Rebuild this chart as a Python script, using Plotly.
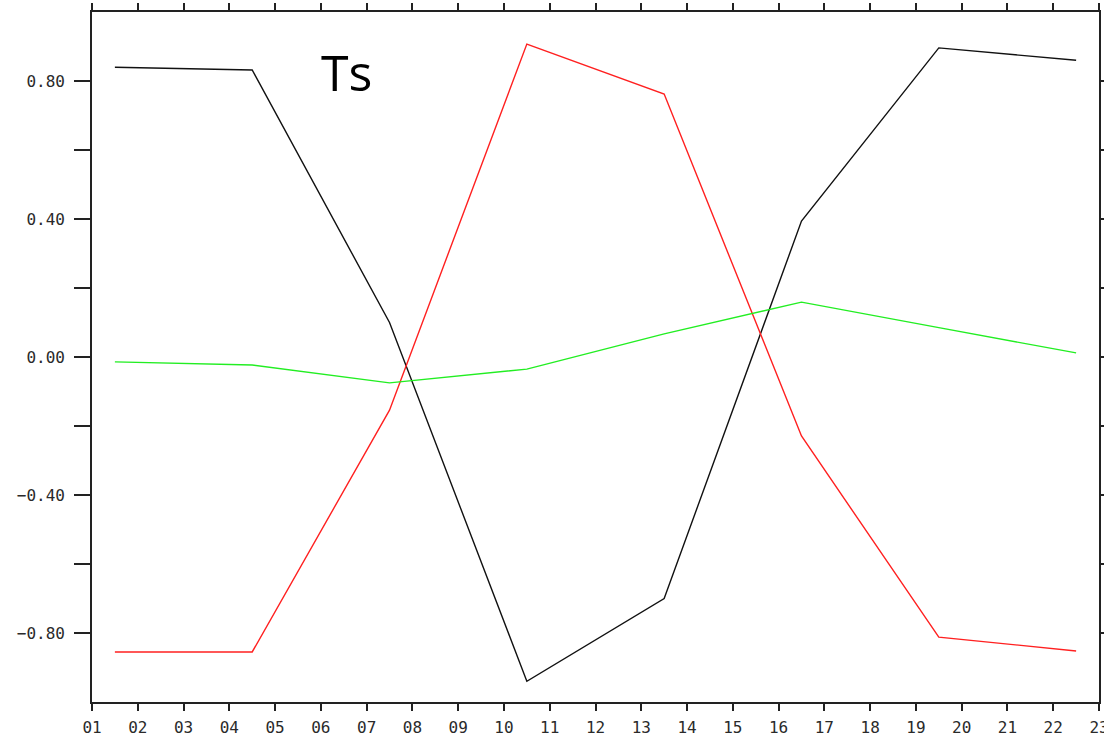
import plotly.graph_objects as go

x_pos = [1.5, 4.5, 7.5, 10.5, 13.5, 16.5, 19.5, 22.5]
black_vals = [0.84, 0.832, 0.10, -0.94, -0.70, 0.394, 0.896, 0.86]
red_vals = [-0.855, -0.855, -0.154, 0.907, 0.762, -0.229, -0.812, -0.852]
green_vals = [-0.014, -0.023, -0.075, -0.035, 0.067, 0.159, 0.085, 0.012]
x_tick_vals = list(range(1, 24))
x_tick_text = [f"{i:02d}" for i in x_tick_vals]
y_tick_vals = [-0.8, -0.4, 0.0, 0.4, 0.8]
y_tick_text = ["\u22120.80", "\u22120.40", "0.00", "0.40", "0.80"]

fig = go.Figure()
for vals, col in [(black_vals, "#111111"), (red_vals, "#ff2020"), (green_vals, "#22ee22")]:
    fig.add_trace(go.Scatter(x=x_pos, y=vals, mode="lines", hoverinfo="skip",
                             line=dict(color=col, width=1.4), showlegend=False))

fig.add_annotation(text="Ts", x=0.253, y=0.913, xref="paper", yref="paper",
                   showarrow=False, font=dict(family="Open Sans", size=50, color="black"),
                   xanchor="center", yanchor="middle")

fig.update_layout(
    template="none",
    width=1104, height=743,
    margin=dict(l=92, r=5, t=12, b=41, autoexpand=False),
    paper_bgcolor="white", plot_bgcolor="white",
    font=dict(family="DejaVu Sans Mono", size=16, color="#2a2a2a"),
)
fig.update_xaxes(range=[1, 23], tickvals=x_tick_vals, ticktext=x_tick_text,
                 showgrid=False, zeroline=False, showline=True, linecolor="#222222",
                 linewidth=1.6, mirror="allticks", ticks="outside", ticklen=7,
                 tickcolor="#222222", tickwidth=1.5, automargin=False,
                 ticklabelstandoff=3, ticklabeloverflow="allow")
fig.update_yaxes(range=[-1, 1], tickvals=y_tick_vals, ticktext=y_tick_text,
                 showgrid=False, zeroline=False, showline=True, linecolor="#222222",
                 linewidth=1.6, mirror="allticks", ticks="outside", ticklen=16,
                 tickcolor="#222222", tickwidth=1.5, automargin=False,
                 ticklabelstandoff=6, ticklabeloverflow="allow",
                 minor=dict(tickvals=[-0.6, -0.2, 0.2, 0.6], ticks="outside", ticklen=16,
                            tickcolor="#222222", tickwidth=1.5, showgrid=False))
fig.write_html("out.html", config={"displayModeBar": False},
               post_script="document.body.style.margin='0';document.body.style.overflow='hidden';")
